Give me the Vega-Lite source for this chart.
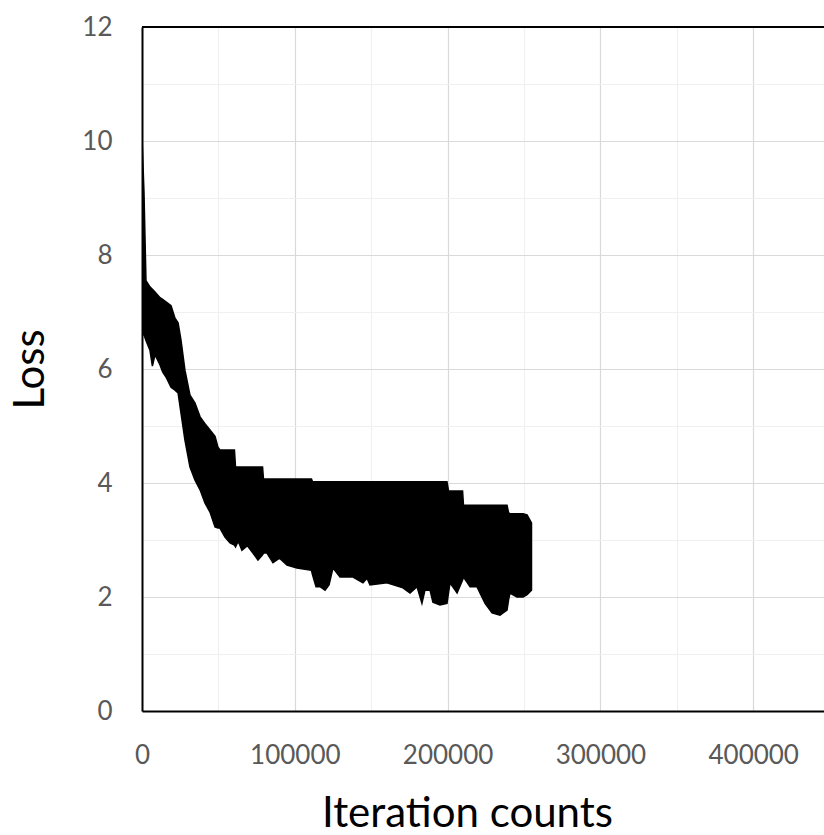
{
  "$schema": "https://vega.github.io/schema/vega-lite/v6.json",
  "autosize": "none",
  "padding": {"left": 142, "top": 27, "right": 0, "bottom": 124},
  "width": 682,
  "height": 684,
  "background": "white",
  "config": {
    "view": {"stroke": null},
    "font": "Lato",
    "axis": {
      "labelFont": "Lato",
      "titleFont": "Lato",
      "labelColor": "#595959",
      "labelFontSize": 26,
      "titleFontSize": 42,
      "titleFontWeight": "normal",
      "titleColor": "black",
      "ticks": false,
      "domainColor": "black",
      "domainWidth": 2,
      "gridWidth": 1.2
    }
  },
  "data": {
    "values": [
      {"it": 0, "hi": 10.07, "lo": 6.6},
      {"it": 1300, "hi": 9.1, "lo": 6.6},
      {"it": 2600, "hi": 7.55, "lo": 6.5},
      {"it": 5200, "hi": 7.44, "lo": 6.33},
      {"it": 6800, "hi": 7.4, "lo": 6.05},
      {"it": 8500, "hi": 7.35, "lo": 6.25},
      {"it": 11800, "hi": 7.25, "lo": 6.07},
      {"it": 13500, "hi": 7.22, "lo": 5.95},
      {"it": 15700, "hi": 7.18, "lo": 5.86},
      {"it": 19000, "hi": 7.11, "lo": 5.68},
      {"it": 21600, "hi": 6.89, "lo": 5.63},
      {"it": 23600, "hi": 6.81, "lo": 5.58},
      {"it": 25500, "hi": 6.51, "lo": 5.23},
      {"it": 28100, "hi": 5.98, "lo": 4.75},
      {"it": 31400, "hi": 5.54, "lo": 4.28},
      {"it": 34700, "hi": 5.40, "lo": 4.05},
      {"it": 38000, "hi": 5.16, "lo": 3.88},
      {"it": 41200, "hi": 5.04, "lo": 3.65},
      {"it": 44500, "hi": 4.93, "lo": 3.49},
      {"it": 47800, "hi": 4.82, "lo": 3.23},
      {"it": 49700, "hi": 4.63, "lo": 3.21},
      {"it": 51000, "hi": 4.58, "lo": 3.21},
      {"it": 54300, "hi": 4.58, "lo": 3.05},
      {"it": 57600, "hi": 4.58, "lo": 2.95},
      {"it": 60500, "hi": 4.58, "lo": 2.91},
      {"it": 61200, "hi": 4.28, "lo": 2.88},
      {"it": 63000, "hi": 4.28, "lo": 2.98},
      {"it": 65400, "hi": 4.28, "lo": 2.82},
      {"it": 69000, "hi": 4.28, "lo": 2.9},
      {"it": 72600, "hi": 4.28, "lo": 2.77},
      {"it": 75900, "hi": 4.28, "lo": 2.65},
      {"it": 78900, "hi": 4.28, "lo": 2.74},
      {"it": 79500, "hi": 4.07, "lo": 2.77},
      {"it": 81800, "hi": 4.07, "lo": 2.77},
      {"it": 85700, "hi": 4.07, "lo": 2.60},
      {"it": 90000, "hi": 4.07, "lo": 2.68},
      {"it": 94900, "hi": 4.07, "lo": 2.56},
      {"it": 101400, "hi": 4.07, "lo": 2.51},
      {"it": 110900, "hi": 4.07, "lo": 2.47},
      {"it": 111600, "hi": 4.02, "lo": 2.39},
      {"it": 113900, "hi": 4.02, "lo": 2.18},
      {"it": 116500, "hi": 4.02, "lo": 2.18},
      {"it": 119800, "hi": 4.02, "lo": 2.12},
      {"it": 122400, "hi": 4.02, "lo": 2.21},
      {"it": 125000, "hi": 4.02, "lo": 2.51},
      {"it": 129600, "hi": 4.02, "lo": 2.35},
      {"it": 138100, "hi": 4.02, "lo": 2.35},
      {"it": 144600, "hi": 4.02, "lo": 2.25},
      {"it": 147300, "hi": 4.02, "lo": 2.33},
      {"it": 149200, "hi": 4.02, "lo": 2.21},
      {"it": 160300, "hi": 4.02, "lo": 2.25},
      {"it": 170800, "hi": 4.02, "lo": 2.16},
      {"it": 175400, "hi": 4.02, "lo": 2.07},
      {"it": 180000, "hi": 4.02, "lo": 2.18},
      {"it": 183200, "hi": 4.02, "lo": 1.89},
      {"it": 185200, "hi": 4.02, "lo": 2.12},
      {"it": 188500, "hi": 4.02, "lo": 2.12},
      {"it": 190400, "hi": 4.02, "lo": 1.91},
      {"it": 195000, "hi": 4.02, "lo": 1.86},
      {"it": 199600, "hi": 4.02, "lo": 1.89},
      {"it": 200600, "hi": 3.86, "lo": 2.07},
      {"it": 201600, "hi": 3.86, "lo": 2.25},
      {"it": 206200, "hi": 3.86, "lo": 2.07},
      {"it": 209800, "hi": 3.86, "lo": 2.30},
      {"it": 210400, "hi": 3.61, "lo": 2.35},
      {"it": 214700, "hi": 3.61, "lo": 2.18},
      {"it": 219200, "hi": 3.61, "lo": 2.18},
      {"it": 224500, "hi": 3.61, "lo": 1.89},
      {"it": 229100, "hi": 3.61, "lo": 1.72},
      {"it": 234300, "hi": 3.61, "lo": 1.68},
      {"it": 238900, "hi": 3.61, "lo": 1.77},
      {"it": 239900, "hi": 3.48, "lo": 1.95},
      {"it": 240800, "hi": 3.46, "lo": 2.07},
      {"it": 245400, "hi": 3.46, "lo": 2.0},
      {"it": 249400, "hi": 3.46, "lo": 2.0},
      {"it": 252000, "hi": 3.44, "lo": 2.04},
      {"it": 254900, "hi": 3.3, "lo": 2.12}
    ]
  },
  "layer": [
    {
      "mark": {"type": "area", "color": "black", "stroke": "black", "strokeWidth": 1.5, "clip": true},
      "encoding": {
        "x": {
          "field": "it", "type": "quantitative",
          "scale": {"domain": [0, 446335], "nice": false, "zero": false},
          "axis": {
            "title": "Iteration counts",
            "values": [0, 50000, 100000, 150000, 200000, 250000, 300000, 350000, 400000],
            "labelExpr": "datum.value % 100000 === 0 ? format(datum.value, 'd') : ''",
            "labelFlush": false,
            "labelPadding": 31,
            "gridColor": {"condition": {"test": "datum.value % 100000 === 0", "value": "#d9d9d9"}, "value": "#f0f0f0"},
            "titleX": 325,
            "titleY": 115,
            "titleAnchor": null,
            "titleAlign": "center",
            "titleBaseline": "alphabetic"
          }
        },
        "y": {
          "field": "hi", "type": "quantitative",
          "scale": {"domain": [0, 12], "nice": false},
          "axis": {
            "title": "Loss",
            "values": [0, 1, 2, 3, 4, 5, 6, 7, 8, 9, 10, 11, 12],
            "labelExpr": "datum.value % 2 === 0 ? format(datum.value, 'd') : ''",
            "labelPadding": 30,
            "gridColor": {"condition": {"test": "datum.value % 2 === 0", "value": "#d9d9d9"}, "value": "#f0f0f0"},
            "titleX": -99,
            "titleY": 342,
            "titleAngle": -90,
            "titleAlign": "center",
            "titleBaseline": "alphabetic"
          }
        },
        "y2": {"field": "lo"}
      }
    },
    {
      "mark": {"type": "rule", "color": "black", "strokeWidth": 2},
      "encoding": {"y": {"datum": 12}}
    }
  ]
}
